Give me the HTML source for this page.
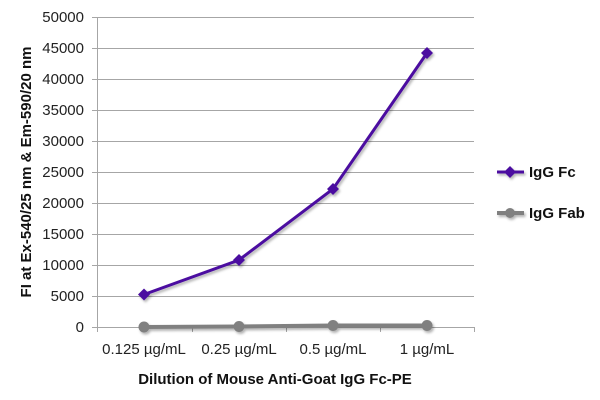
<!DOCTYPE html>
<html><head><style>body{margin:0;background:#fff}svg{display:block}</style></head><body>
<svg width="600" height="400" xmlns="http://www.w3.org/2000/svg" font-family="Liberation Sans, sans-serif">
<defs><filter id="sh" x="-20%" y="-20%" width="140%" height="140%"><feDropShadow dx="1.5" dy="2" stdDeviation="1.2" flood-color="#000" flood-opacity="0.3"/></filter></defs>
<g stroke="#a6a6a6" stroke-width="1">
<line x1="92" y1="17.5" x2="474" y2="17.5"/><line x1="92" y1="48.5" x2="474" y2="48.5"/><line x1="92" y1="79.5" x2="474" y2="79.5"/><line x1="92" y1="110.5" x2="474" y2="110.5"/><line x1="92" y1="141.5" x2="474" y2="141.5"/><line x1="92" y1="172.5" x2="474" y2="172.5"/><line x1="92" y1="203.5" x2="474" y2="203.5"/><line x1="92" y1="234.5" x2="474" y2="234.5"/><line x1="92" y1="265.5" x2="474" y2="265.5"/><line x1="92" y1="296.5" x2="474" y2="296.5"/><line x1="92" y1="327.5" x2="474" y2="327.5"/>
<line x1="97.5" y1="17" x2="97.5" y2="332"/><line x1="192.5" y1="327" x2="192.5" y2="332"/><line x1="286.5" y1="327" x2="286.5" y2="332"/><line x1="380.5" y1="327" x2="380.5" y2="332"/><line x1="474.5" y1="327" x2="474.5" y2="332"/>
</g>
<g font-size="15" fill="#222" text-anchor="end">
<text x="84" y="22">50000</text><text x="84" y="53">45000</text><text x="84" y="84">40000</text><text x="84" y="115">35000</text><text x="84" y="146">30000</text><text x="84" y="177">25000</text><text x="84" y="208">20000</text><text x="84" y="239">15000</text><text x="84" y="270">10000</text><text x="84" y="301">5000</text><text x="84" y="332">0</text>
</g>
<g font-size="15" fill="#222" text-anchor="middle">
<text x="144" y="354">0.125 µg/mL</text><text x="239" y="354">0.25 µg/mL</text><text x="333" y="354">0.5 µg/mL</text><text x="427" y="354">1 µg/mL</text>
</g>
<text x="275" y="384" font-size="15" font-weight="bold" text-anchor="middle" fill="#111">Dilution of Mouse Anti-Goat IgG Fc-PE</text>
<text transform="translate(31,172) rotate(-90)" font-size="15" font-weight="bold" text-anchor="middle" fill="#111">FI at Ex-540/25 nm &amp; Em-590/20 nm</text>
<g filter="url(#sh)">
<polyline points="144,327 239,326.5 333,325.5 427,325.5" fill="none" stroke="#808080" stroke-width="4"/>
<g fill="#808080"><circle cx="144" cy="327" r="5.5"/><circle cx="239" cy="326.5" r="5.5"/><circle cx="333" cy="325.5" r="5.5"/><circle cx="427" cy="325.5" r="5.5"/></g>
<polyline points="144,294.5 239,260 333,189 427,53" fill="none" stroke="#4b0fa0" stroke-width="3"/>
<g fill="#4b0fa0"><path d="M144 288.5l6 6-6 6-6-6z"/><path d="M239 254l6 6-6 6-6-6z"/><path d="M333 183l6 6-6 6-6-6z"/><path d="M427 47l6 6-6 6-6-6z"/></g>
<line x1="497" y1="172" x2="524" y2="172" stroke="#4b0fa0" stroke-width="3"/><path d="M510 166l6 6-6 6-6-6z" fill="#4b0fa0"/>
<line x1="497" y1="213" x2="524" y2="213" stroke="#808080" stroke-width="4"/><circle cx="510" cy="213" r="5" fill="#808080"/>
</g>
<text x="529" y="177" font-size="15" font-weight="bold" fill="#111">IgG Fc</text>
<text x="529" y="218" font-size="15" font-weight="bold" fill="#111">IgG Fab</text>
</svg>
</body></html>
